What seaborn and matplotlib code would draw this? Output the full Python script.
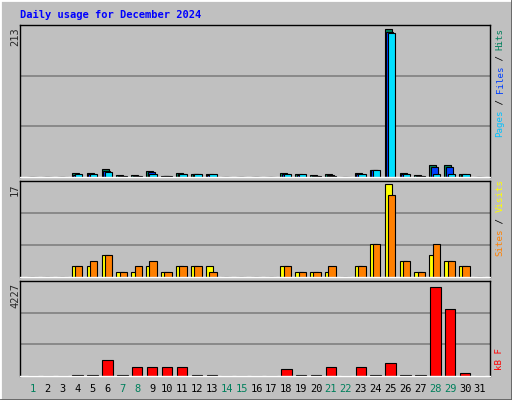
import numpy as np
import matplotlib.pyplot as plt
import seaborn as sns

sns.set_style("white")
plt.rcParams['font.family'] = ['DejaVu Sans Mono']

days = np.arange(1, 32)
active = [4, 5, 6, 7, 8, 9, 10, 11, 12, 13, 18, 19, 20, 21, 23, 24, 25, 26, 27, 28, 29, 30]
hits_a = [6, 6, 12, 3, 3, 8, 2, 6, 4, 4, 6, 4, 3, 4, 6, 10, 213, 6, 3, 18, 18, 4]
files_a = [3, 5, 9, 2, 2, 7, 2, 4, 4, 3, 5, 3, 2, 3, 5, 10, 210, 5, 2, 15, 14, 3]
pages_a = [5, 4, 7, 2, 1, 4, 1, 4, 4, 4, 4, 4, 2, 1, 4, 10, 208, 5, 2, 5, 5, 4]
visits_a = [2, 2, 4, 1, 1, 2, 1, 2, 2, 2, 2, 1, 1, 1, 2, 6, 17, 3, 1, 4, 3, 2]
sites_a = [2, 3, 4, 1, 2, 3, 1, 2, 2, 1, 2, 1, 1, 2, 2, 6, 15, 3, 1, 6, 3, 2]
kb_a = [40, 40, 745, 40, 420, 420, 420, 420, 40, 40, 300, 40, 40, 420, 420, 40, 600, 40, 40, 4100, 3050, 150]
weekend = [1, 7, 8, 14, 15, 21, 22, 28, 29]

def full(vals):
    out = np.zeros(31)
    for d, v in zip(active, vals):
        out[d - 1] = v
    return out

hits, files, pages = full(hits_a), full(files_a), full(pages_a)
visits, sites, kb = full(visits_a), full(sites_a), full(kb_a)

W, H = 512, 400
fig = plt.figure(figsize=(W / 100, H / 100), dpi=100, facecolor='#C0C0C0')

# bevel
fig.add_artist(plt.Line2D([0, 0, 1], [0, 1, 1], transform=fig.transFigure, color='white', lw=2))
fig.add_artist(plt.Line2D([0, 1, 1], [0, 0, 1], transform=fig.transFigure, color='#606060', lw=2))

def px_axes(y_top, y_bot, x0=20, x1=490):
    return fig.add_axes([x0 / W, 1 - y_bot / H, (x1 - x0) / W, (y_bot - y_top) / H])

def style(ax, ymax):
    ax.set_facecolor('#C0C0C0')
    ax.set_xlim(0.13, 31.67)
    ax.set_ylim(0, ymax * 1.03)
    for g in (ymax * 1.03 / 3, ymax * 1.03 * 2 / 3):
        ax.axhline(g, color='#808080', lw=1.2, zorder=0)
    ax.set_xticks([])
    ax.set_yticks([])
    for s in ax.spines.values():
        s.set_color('black')
        s.set_linewidth(1)
    ax.spines['bottom'].set_color('white')

ax1 = px_axes(25, 177)
style(ax1, 213)
ax1.bar(days - 0.4, hits, width=0.47, align='edge', color='#00805C', edgecolor='black', lw=0.8)
ax1.bar(days - 0.29, files, width=0.47, align='edge', color='#0040FF', edgecolor='black', lw=0.8)
ax1.bar(days - 0.18, pages, width=0.5, align='edge', color='#00E0FF', edgecolor='black', lw=0.8)

ax2 = px_axes(181, 277)
style(ax2, 17)
ax2.bar(days - 0.4, visits, width=0.5, align='edge', color='#FFFF00', edgecolor='black', lw=0.8)
ax2.bar(days - 0.18, sites, width=0.5, align='edge', color='#FF8000', edgecolor='black', lw=0.8)

ax3 = px_axes(281, 376)
style(ax3, 4227)
ax3.bar(days - 0.35, kb, width=0.7, align='edge', color='#FF0000', edgecolor='black', lw=0.8)

fs = 6.6
fig.text(20 / W, 1 - 15 / H, "Daily usage for December 2024", color='#0000FF',
         fontweight='bold', fontsize=7.5, va='center', ha='left')

for label, y in (("213", 27), ("17", 183), ("4227", 283)):
    fig.text(15 / W, 1 - y / H, label, rotation=90, ha='center', va='top', fontsize=7.5)

def side(parts, y_bottom):
    y = y_bottom
    for txt, col in parts:
        fig.text(500 / W, 1 - y / H, txt, rotation=90, color=col, ha='center',
                 va='bottom', fontsize=fs)
        y -= 5.45 * len(txt)

side([("Pages", '#00C0FF'), (" / ", 'black'), ("Files", '#0040FF'),
      (" / ", 'black'), ("Hits", '#00805C')], 137)
side([("Sites", '#FF8000'), (" / ", 'black'), ("Visits", '#FFFF00')], 256)
side([("kB F", '#FF0000')], 370)

for d in days:
    x = 20 + (d - 0.13) / (31.67 - 0.13) * 470
    fig.text(x / W, 1 - 389 / H, str(d), ha='center', va='center', fontsize=7.5,
             color='#00805C' if d in weekend else 'black')

fig.savefig("out.png", dpi=100, facecolor=fig.get_facecolor())
